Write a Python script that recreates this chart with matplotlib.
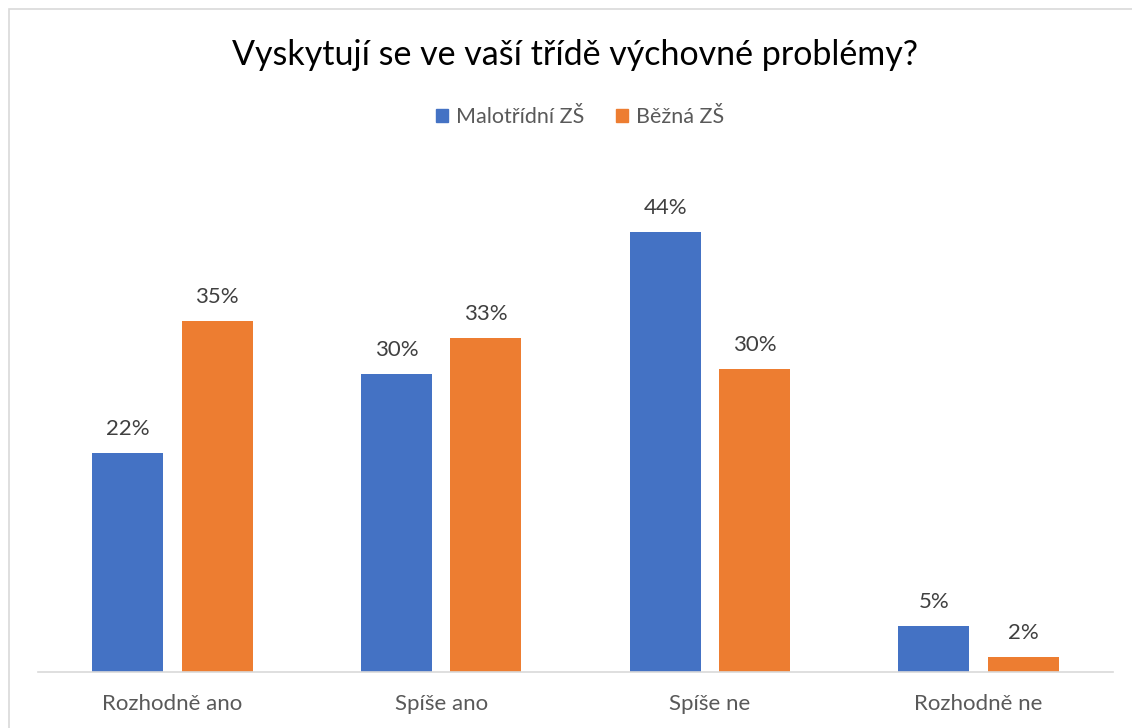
import matplotlib.pyplot as plt
import matplotlib.patches as mpatches
import numpy as np

plt.rcParams["font.family"] = ["Lato", "DejaVu Sans"]

categories = ["Rozhodně ano", "Spíše ano", "Spíše ne", "Rozhodně ne"]
series_names = ["Malotřídní ZŠ", "Běžná ZŠ"]
malotridni = [21.9, 29.8, 44.0, 4.6]
bezna = [35.1, 33.4, 30.3, 1.5]
title = "Vyskytují se ve vaší třídě výchovné problémy?"

BLUE = "#4472C4"
ORANGE = "#ED7D31"

W, H, DPI = 1132, 728, 100
fig = plt.figure(figsize=(W / DPI, H / DPI), dpi=DPI)

# chart frame (only left/top edges visible in the reference)
fig.add_artist(mpatches.Rectangle((9 / W, -0.1), 1.2, 1 - 9 / H + 0.1,
                                  transform=fig.transFigure, fill=False,
                                  edgecolor="#D9D9D9", linewidth=1.2))

# axes: x from 38 to 1113 px, baseline at 672, 10 px per percent
left, right = 38 / W, 1113 / W
bottom = 1 - 672 / H
top = 1 - 172 / H
ax = fig.add_axes([left, bottom, right - left, top - bottom])

x = np.arange(len(categories))
bw = 0.264
off = 0.1665
b1 = ax.bar(x - off, malotridni, bw, color=BLUE)
b2 = ax.bar(x + off, bezna, bw, color=ORANGE)

for bars, vals in ((b1, malotridni), (b2, bezna)):
    for rect, v in zip(bars, vals):
        ax.annotate(f"{v:.0f}%", (rect.get_x() + rect.get_width() / 2, v),
                    xytext=(0, 17.5), textcoords="offset points",
                    ha="center", va="center", fontsize=16, color="#404040")

ax.set_xlim(-0.5, 3.5)
ax.set_ylim(0, 50)
ax.set_xticks(x)
ax.set_xticklabels(categories, fontsize=16, color="#595959")
ax.tick_params(axis="x", length=0, pad=16)
ax.set_yticks([])
for s in ("left", "right", "top"):
    ax.spines[s].set_visible(False)
ax.spines["bottom"].set_color("#D9D9D9")
ax.spines["bottom"].set_linewidth(1.2)

fig.text(575 / W, 1 - 55 / H, title, ha="center", va="center",
         fontsize=24.5, color="#000000")

handles = [mpatches.Patch(color=BLUE, label=series_names[0]),
           mpatches.Patch(color=ORANGE, label=series_names[1])]
leg = fig.legend(handles=handles, loc="center", bbox_to_anchor=(580 / W, 1 - 117 / H),
                 ncol=2, frameon=False, fontsize=15.5, handlelength=0.55,
                 handleheight=0.55, handletextpad=0.35, columnspacing=1.5)
for t in leg.get_texts():
    t.set_color("#595959")

fig.savefig("out.png", dpi=DPI)
